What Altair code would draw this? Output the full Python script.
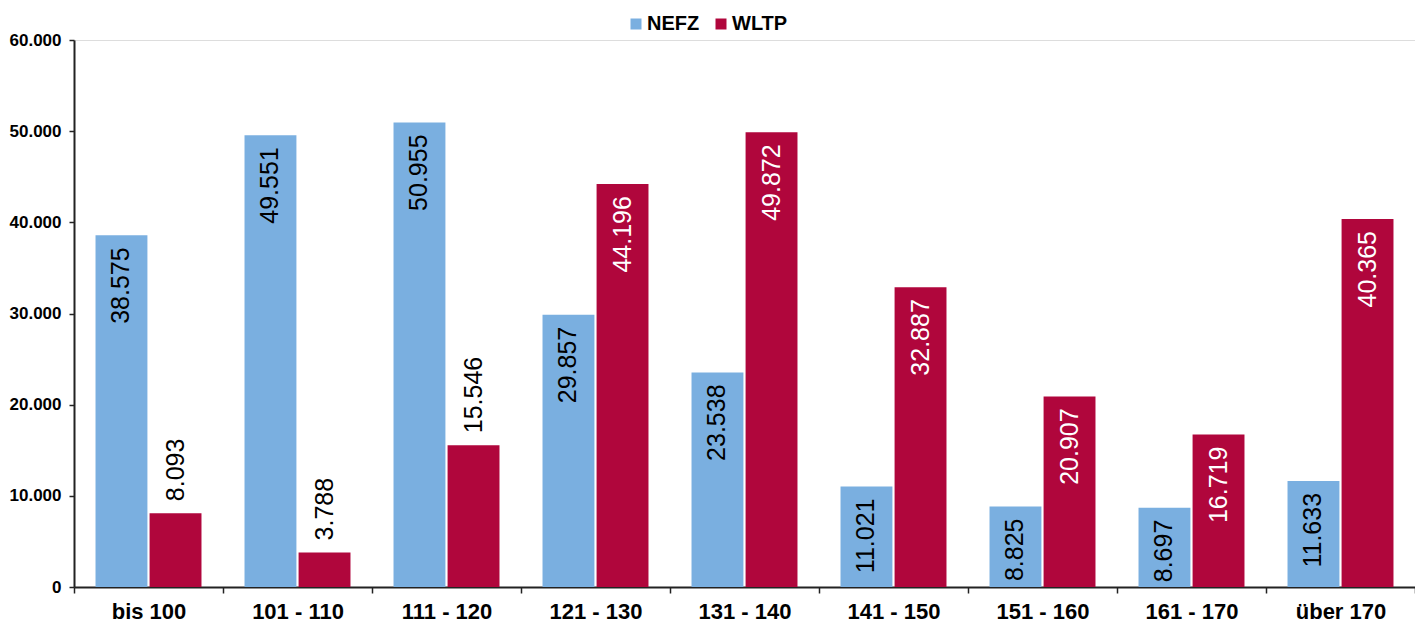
import altair as alt
import pandas as pd

categories = ["bis 100", "101 - 110", "111 - 120", "121 - 130", "131 - 140",
              "141 - 150", "151 - 160", "161 - 170", "über 170"]
series_names = ["NEFZ", "WLTP"]
nefz = [38575, 49551, 50955, 29857, 23538, 11021, 8825, 8697, 11633]
wltp = [8093, 3788, 15546, 44196, 49872, 32887, 20907, 16719, 40365]
y_ticks = [0, 10000, 20000, 30000, 40000, 50000, 60000]
colors = ["#7AAFE0", "#B0063C"]

rows = []
for c, a, b in zip(categories, nefz, wltp):
    rows.append({"cat": c, "series": "NEFZ", "value": a})
    rows.append({"cat": c, "series": "WLTP", "value": b})
df = pd.DataFrame(rows)

FONT = "Liberation Sans"

x_enc = alt.X(
    "cat:N", sort=categories, title=None,
    scale=alt.Scale(paddingInner=0, paddingOuter=0),
    axis=alt.Axis(labelAngle=0, labelFontSize=22, labelFontWeight="bold",
                  labelColor="#000", labelFont=FONT, tickBand="extent",
                  tickSize=6, tickWidth=1.5, tickColor="#222",
                  domainColor="#222", domainWidth=2, labelPadding=8),
)
xo_enc = alt.XOffset("series:N", sort=series_names,
                     scale=alt.Scale(paddingInner=0.04, paddingOuter=0.398))
y_enc = alt.Y(
    "value:Q", title=None,
    scale=alt.Scale(domain=[0, 60000], nice=False),
    axis=alt.Axis(values=y_ticks, grid=False, labelFontSize=17,
                  labelFontWeight="bold", labelColor="#000", labelFont=FONT,
                  labelExpr="replace(format(datum.value, ',d'), ',', '.')",
                  tickSize=5, tickWidth=1.5, tickColor="#222",
                  domainColor="#222", domainWidth=2, labelPadding=8),
)

base = alt.Chart(df).transform_calculate(
    label="replace(format(datum.value, ',d'), ',', '.')",
    outside="datum.series == 'WLTP' && datum.value < 16000",
)

bars = base.mark_bar().encode(
    x=x_enc, xOffset=xo_enc, y=y_enc,
    color=alt.Color(
        "series:N", sort=series_names,
        scale=alt.Scale(domain=series_names, range=colors),
        legend=alt.Legend(title=None, orient="none", direction="horizontal",
                          legendX=552, legendY=-26, symbolType="square",
                          symbolSize=121, symbolStrokeWidth=0,
                          labelFontSize=20, labelFontWeight="bold",
                          labelFont=FONT, labelColor="#000",
                          columnPadding=11, labelOffset=1),
    ),
)

inside = base.transform_filter("!datum.outside").mark_text(
    angle=270, align="right", baseline="middle", dx=-12,
    fontSize=25, font=FONT,
).encode(
    x=alt.X("cat:N", sort=categories), xOffset=alt.XOffset("series:N", sort=series_names),
    y="value:Q", text="label:N",
    color=alt.when(alt.datum.series == "WLTP").then(alt.value("white")).otherwise(alt.value("black")),
)

outside = base.transform_filter("datum.outside").mark_text(
    angle=270, align="left", baseline="middle", dx=12,
    fontSize=25, font=FONT, color="black",
).encode(
    x=alt.X("cat:N", sort=categories), xOffset=alt.XOffset("series:N", sort=series_names),
    y="value:Q", text="label:N",
)

chart = alt.layer(bars, inside, outside).properties(
    width=1341, height=547,
    autosize=alt.AutoSizeParams(type="none"),
    padding={"left": 66, "top": 32, "right": 0, "bottom": 39},
).configure_view(stroke=None).configure(font=FONT)

chart.save("out.html", embed_options={"renderer": "svg", "actions": False})
